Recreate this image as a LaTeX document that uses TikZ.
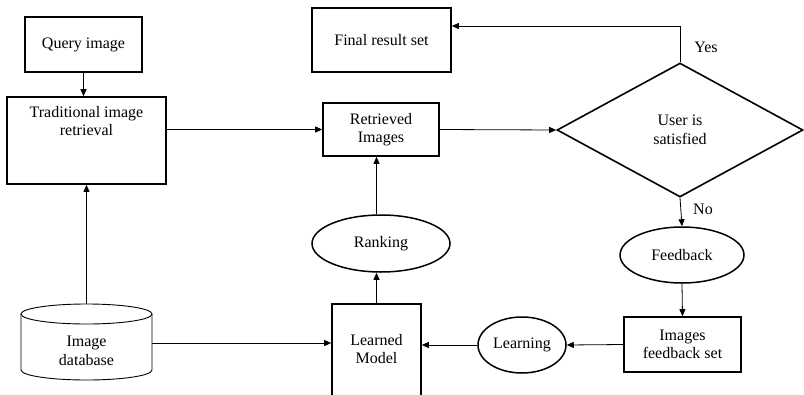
\documentclass[tikz,border=0pt]{standalone}
\usepackage{fontspec}
\setmainfont{Liberation Serif}
\usetikzlibrary{arrows.meta,shapes.geometric,calc}
\begin{document}
\begin{tikzpicture}[x=1pt,y=-1pt,
  every node/.style={font=\fontsize{16}{18.5}\selectfont, align=center, inner sep=0pt},
  boxnode/.style={draw, rectangle, line width=1.6pt},
  ellnode/.style={draw, ellipse, line width=1.5pt},
  arr/.style={line width=0.8pt, -{Triangle[length=7pt,width=6pt]}},
  plain/.style={line width=0.8pt}]
\useasboundingbox (0,0) rectangle (804,394);
\clip (0,0) rectangle (804,394);
% nodes
\node[boxnode, minimum width=117, minimum height=55] (query) at (83.5,44.5) {Query image};
\node[boxnode, minimum width=159, minimum height=87] (trad) at (86.5,140.5) {};
\node[anchor=north] (tradtxt) at (86.5,106) {Traditional image\\retrieval};
\node[boxnode, minimum width=139, minimum height=64] (final) at (381.5,40) {Final result set};
\node[boxnode, minimum width=116, minimum height=53] (ret) at (381,129.5) {Retrieved\\Images};
\node[draw, diamond, line width=1.6pt, minimum width=246, minimum height=134, aspect=1.8] (dia) at (680,130) {User is\\satisfied};
\node[ellnode, minimum width=124, minimum height=56] (fb) at (682,255) {Feedback};
\node[boxnode, minimum width=117, minimum height=55] (ifs) at (682.5,344.5) {Images\\feedback set};
\node[ellnode, minimum width=88, minimum height=56] (learn) at (522,345) {Learning};
\node[boxnode, minimum width=89, minimum height=120] (lm) at (376.5,364) {};
\node (lmtxt) at (376.5,349) {Learned\\Model};
\node[ellnode, minimum width=138, minimum height=57] (rank) at (381,243.5) {Ranking};
% cylinder
\draw[line width=0.9pt] (86.5,314) ellipse [x radius=65.5pt, y radius=10pt];
\draw[line width=0.9pt] (21,314) -- (21,370) arc[start angle=180, end angle=360, x radius=65.5pt, y radius=10pt] -- (152,314);
\node[minimum width=131] (db) at (86.5,351) {Image\\database};
\coordinate (dbtop) at (86.5,304);
\coordinate (yA) at (0,343);
\coordinate (yY) at (0,26);
% connectors
\draw[arr] (query.south) -- (query.south |- trad.north);
\draw[arr] (dbtop) -- (trad.south);
\draw[arr] (trad.east |- ret.west) -- (ret.west);
\draw[arr] (ret.east) -- (dia.west);
\draw[arr] (dia.north) -- (dia.north |- yY) -- (final.east |- yY);
\draw[arr] (dia.south) -- (fb.north);
\draw[arr] (fb.south) -- (ifs.north);
\draw[arr] (ifs.west) -- (learn.east);
\draw[arr] (learn.west) -- (lm.east |- learn.west);
\draw[arr] (db.east |- yA) -- (lm.west |- yA);
\draw[arr] (lm.north) -- (rank.south -| lm.north);
\draw[arr] (rank.north -| lm.north) -- (ret.south -| lm.north);
% labels
\node (yes) at (706,47) {Yes};
\node (no) at (703,209) {No};
\end{tikzpicture}
\end{document}
